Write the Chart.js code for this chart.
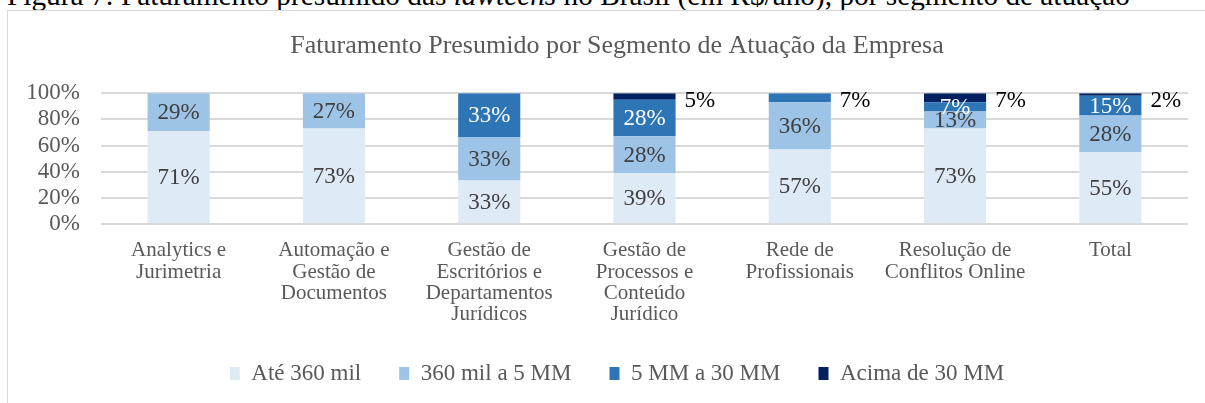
<!DOCTYPE html>
<html>
<head>
<meta charset="utf-8">
<script src="https://cdn.jsdelivr.net/npm/chart.js@4.4.1/dist/chart.umd.min.js"></script>
<style>
  html, body { margin: 0; padding: 0; background: #fff; width: 1205px; height: 403px; overflow: hidden; position: relative; }
  #caption { position: absolute; left: 7px; top: -20px; font-family: "Liberation Serif", "Times New Roman", serif; font-size: 29.3px; color: #000; white-space: nowrap; line-height: 30px; }
  #frame { position: absolute; left: 7px; top: 10px; width: 1250px; height: 400px; border: 1.5px solid #d9d9d9; box-sizing: border-box; }
  #c { position: absolute; left: 8px; top: 11px; }
</style>
</head>
<body>
<div id="caption">Figura 7: Faturamento presumido das <i>lawtechs</i> no Brasil (em R$/ano), por segmento de atuação</div>
<div id="frame"></div>
<canvas id="c" width="1236" height="392"></canvas>
<script>
const categories = [
  ["Analytics e", "Jurimetria"],
  ["Automação e", "Gestão de", "Documentos"],
  ["Gestão de", "Escritórios e", "Departamentos", "Jurídicos"],
  ["Gestão de", "Processos e", "Conteúdo", "Jurídico"],
  ["Rede de", "Profissionais"],
  ["Resolução de", "Conflitos Online"],
  ["Total"]
];
const seriesNames = ["Até 360 mil", "360 mil a 5 MM", "5 MM a 30 MM", "Acima de 30 MM"];
const ate360 = [71, 73, 33.3, 39, 57, 73, 55];
const de360a5 = [29, 27, 33.3, 28, 36, 13, 28];
const de5a30 = [null, null, 33.3, 28, 7, 7, 15];
const acima30 = [null, null, null, 5, null, 7, 2];
const yTicks = [0, 20, 40, 60, 80, 100];

const colors = ["#deebf7", "#9dc3e6", "#2e75b6", "#002060"];
const labelColors = ["#404040", "#404040", "#ffffff", "#000000"];
const FONT = '"Liberation Serif", "Times New Roman", serif';

const labelPlugin = {
  id: 'segLabels',
  afterDatasetsDraw(chart) {
    const ctx = chart.ctx;
    ctx.save();
    ctx.font = '23px ' + FONT;
    ctx.textBaseline = 'middle';
    const n = chart.data.labels.length;
    for (let i = 0; i < n; i++) {
      let topIdx = -1;
      chart.data.datasets.forEach((ds, d) => { if (ds.data[i] != null) topIdx = d; });
      chart.data.datasets.forEach((ds, d) => {
        const v = ds.data[i];
        if (v == null) return;
        const el = chart.getDatasetMeta(d).data[i];
        const txt = Math.round(v) + '%';
        const cy = (el.y + el.base) / 2;
        if (d === topIdx && v < 10) {
          ctx.fillStyle = '#000000';
          ctx.textAlign = 'left';
          ctx.fillText(txt, el.x + el.width / 2 + 9, el.y + 8);
        } else {
          ctx.fillStyle = labelColors[d];
          ctx.textAlign = 'center';
          ctx.fillText(txt, el.x, cy + 1);
        }
      });
    }
    ctx.restore();
  }
};

const seriesData = [ate360, de360a5, de5a30, acima30];
new Chart(document.getElementById('c'), {
  type: 'bar',
  data: {
    labels: categories,
    datasets: seriesNames.map((name, k) => ({
      label: name,
      data: seriesData[k],
      backgroundColor: colors[k],
      borderWidth: 0,
      barPercentage: 0.8,
      categoryPercentage: 0.5
    }))
  },
  options: {
    responsive: false,
    animation: false,
    devicePixelRatio: 1,
    layout: { padding: { left: 0, right: 18, top: 0, bottom: 8 } },
    plugins: {
      title: {
        display: true,
        text: 'Faturamento Presumido por Segmento de Atuação da Empresa',
        color: '#595959',
        font: { family: FONT, size: 26, weight: 'normal', lineHeight: 1.2 },
        padding: { top: 20, bottom: 31 }
      },
      legend: {
        position: 'bottom',
        labels: {
          color: '#595959',
          font: { family: FONT, size: 23, lineHeight: 1.2 },
          boxWidth: 10,
          boxHeight: 13,
          padding: 38
        }
      },
      tooltip: { enabled: false }
    },
    scales: {
      x: {
        stacked: true,
        grid: { display: false, drawTicks: false },
        border: { display: false },
        ticks: {
          color: '#595959',
          font: { family: FONT, size: 21, lineHeight: 1.02 },
          maxRotation: 0,
          autoSkip: false,
          padding: 16
        },
        afterFit(scale) { scale.height = 100; }
      },
      y: {
        stacked: true,
        min: 0,
        max: 100,
        afterBuildTicks(scale) { scale.ticks = yTicks.map(v => ({ value: v })); },
        grid: { color: '#d9d9d9', lineWidth: 2, drawTicks: false },
        border: { display: false },
        ticks: {
          color: '#595959',
          font: { family: FONT, size: 23 },
          padding: 21,
          autoSkip: false,
          callback: v => v + '%'
        },
        afterFit(scale) { scale.width = 93; }
      },
      spacer: {
        type: 'linear',
        position: 'right',
        display: true,
        grid: { display: false, drawOnChartArea: false, drawTicks: false },
        border: { display: false },
        ticks: { display: false },
        afterFit(scale) { scale.width = 38; }
      }
    }
  },
  plugins: [labelPlugin]
});
</script>
</body>
</html>
